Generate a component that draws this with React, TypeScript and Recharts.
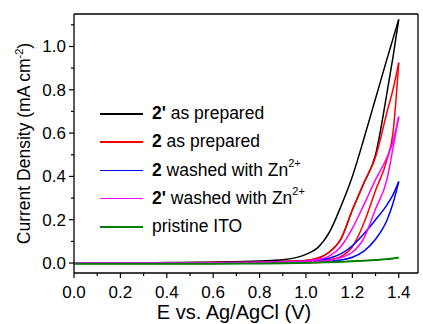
import React from 'react'
import { LineChart, Line, XAxis, YAxis, ReferenceLine, Legend } from 'recharts'

document.body.style.margin = '0'

// potential grid (V) used for both scan directions
const voltages = [0, 0.2, 0.4, 0.6, 0.8, 0.9, 1.0, 1.05, 1.1, 1.15, 1.2, 1.25, 1.3, 1.35, 1.375, 1.4]

// current density (mA cm-2), outer branch (higher current) and inner branch
const blackOuter = [0, 0.001, 0.002, 0.004, 0.009, 0.015, 0.04, 0.07, 0.14, 0.26, 0.4, 0.575, 0.76, 0.945, 1.035, 1.125]
const blackInner = [0, 0, 0.001, 0.002, 0.004, 0.007, 0.012, 0.022, 0.05, 0.11, 0.245, 0.37, 0.5, 0.79, 0.95, 1.125]
const redOuter = [0, 0, 0.001, 0.002, 0.004, 0.007, 0.012, 0.022, 0.05, 0.11, 0.245, 0.37, 0.49, 0.7, 0.8, 0.925]
const redInner = [0, 0, 0, 0.001, 0.002, 0.003, 0.005, 0.009, 0.016, 0.03, 0.075, 0.185, 0.335, 0.48, 0.6, 0.925]
const blueOuter = [0, 0, 0, 0.001, 0.002, 0.004, 0.008, 0.013, 0.022, 0.042, 0.08, 0.135, 0.2, 0.27, 0.315, 0.376]
const blueInner = [0, 0, 0, 0, 0.001, 0.002, 0.003, 0.005, 0.008, 0.014, 0.027, 0.055, 0.11, 0.2, 0.275, 0.376]
const magentaOuter = [0, 0, 0, 0.001, 0.003, 0.005, 0.01, 0.016, 0.032, 0.075, 0.16, 0.27, 0.385, 0.49, 0.56, 0.676]
const magentaInner = [0, 0, 0, 0.001, 0.002, 0.003, 0.005, 0.008, 0.013, 0.025, 0.05, 0.115, 0.25, 0.39, 0.53, 0.676]
const greenOuter = [-0.002, -0.002, -0.002, -0.002, -0.001, 0, 0.002, 0.003, 0.005, 0.007, 0.009, 0.012, 0.015, 0.019, 0.022, 0.026]
const greenInner = [-0.004, -0.004, -0.004, -0.004, -0.003, -0.002, 0, 0.001, 0.003, 0.005, 0.007, 0.01, 0.013, 0.017, 0.02, 0.026]

const xTicks = [0, 0.1, 0.2, 0.3, 0.4, 0.5, 0.6, 0.7, 0.8, 0.9, 1.0, 1.1, 1.2, 1.3, 1.4]
const yTicks = [0, 0.1, 0.2, 0.3, 0.4, 0.5, 0.6, 0.7, 0.8, 0.9, 1.0, 1.1]

const FONT = "'Liberation Sans', Arial, sans-serif"

const toPoints = (vals: number[]) => voltages.map((v, i) => ({ v, j: vals[i] }))

const series = [
  { key: 'black', color: '#000000', outer: blackOuter, inner: blackInner },
  { key: 'red', color: '#ff0000', outer: redOuter, inner: redInner },
  { key: 'blue', color: '#0000ff', outer: blueOuter, inner: blueInner },
  { key: 'magenta', color: '#ff00ff', outer: magentaOuter, inner: magentaInner },
  { key: 'green', color: '#008000', outer: greenOuter, inner: greenInner },
]

const isMajor = (v: number) => Math.round(v * 10) % 2 === 0

const XTick = ({ x, y, payload }: any) => {
  const major = isMajor(payload.value)
  return (
    <g>
      <line x1={x} x2={x} y1={y} y2={y + (major ? 5 : 3)} stroke="#000" strokeWidth={1.2} />
      {major && (
        <text x={x} y={y + 25} textAnchor="middle" style={{ fontSize: 17, fontFamily: FONT }} fill="#000">
          {payload.value.toFixed(1)}
        </text>
      )}
    </g>
  )
}

const YTick = ({ x, y, payload }: any) => {
  const major = isMajor(payload.value)
  return (
    <g>
      <line x1={x} x2={x - (major ? 5 : 3)} y1={y} y2={y} stroke="#000" strokeWidth={1.2} />
      {major && (
        <text x={x - 8} y={y + 6} textAnchor="end" style={{ fontSize: 17, fontFamily: FONT }} fill="#000">
          {payload.value.toFixed(1)}
        </text>
      )}
    </g>
  )
}

const YTitle = ({ viewBox }: any) => {
  const cx = 30
  const cy = viewBox.y + viewBox.height / 2
  return (
    <text
      x={cx}
      y={cy}
      transform={`rotate(-90, ${cx}, ${cy})`}
      textAnchor="middle"
      style={{ fontSize: 17.5, fontFamily: FONT }}
      fill="#000"
    >
      Current Density (mA cm
      <tspan dy={-7} style={{ fontSize: 11 }}>-2</tspan>
      <tspan dy={7}>)</tspan>
    </text>
  )
}

const XTitle = ({ viewBox }: any) => (
  <text
    x={viewBox.x + viewBox.width / 2 - 12}
    y={319}
    textAnchor="middle"
    style={{ fontSize: 20, fontFamily: FONT }}
    fill="#000"
  >
    E vs. Ag/AgCl (V)
  </text>
)

const legendRows = [
  { color: '#000000', bold: "2'", text: ' as prepared', sup: '' },
  { color: '#ff0000', bold: '2', text: ' as prepared', sup: '' },
  { color: '#0000ff', bold: '2', text: ' washed with Zn', sup: '2+' },
  { color: '#ff00ff', bold: "2'", text: ' washed with Zn', sup: '2+' },
  { color: '#008000', bold: '', text: 'pristine ITO', sup: '' },
]

const LegendBox = () => (
  <div style={{ position: 'relative', fontFamily: FONT, fontSize: 17.5, color: '#000' }}>
    {legendRows.map((r, i) => (
      <div key={i} style={{ position: 'absolute', top: i * 28.3, left: 0, height: 28, width: 320 }}>
        <div style={{ position: 'absolute', left: 0, top: 15, width: 43, height: 1.6, background: r.color }} />
        <div style={{ position: 'absolute', left: 52, top: 1, lineHeight: '28px', whiteSpace: 'nowrap' }}>
          {r.bold && <b>{r.bold}</b>}
          {r.text}
          {r.sup && <sup style={{ fontSize: 11, verticalAlign: 'baseline', position: 'relative', top: -9 }}>{r.sup}</sup>}
        </div>
      </div>
    ))}
  </div>
)

export default function App() {
  return (
    <LineChart width={423} height={324} margin={{ top: 14, right: 5, bottom: 0, left: 0 }} style={{ fontFamily: FONT }}>
      <XAxis
        dataKey="v"
        type="number"
        domain={[0, 1.483]}
        ticks={xTicks}
        interval={0}
        allowDataOverflow
        height={51}
        tickSize={0}
        tickMargin={0}
        tick={<XTick />}
        axisLine={{ stroke: '#000', strokeWidth: 1.3 }}
        label={<XTitle />}
      />
      <YAxis
        type="number"
        domain={[-0.046, 1.15]}
        ticks={yTicks}
        interval={0}
        allowDataOverflow
        width={74}
        tickSize={0}
        tickMargin={0}
        tick={<YTick />}
        axisLine={{ stroke: '#000', strokeWidth: 1.3 }}
        label={<YTitle />}
      />
      <ReferenceLine y={1.15} stroke="#000" strokeWidth={1.3} />
      <ReferenceLine x={1.483} stroke="#000" strokeWidth={1.3} />
      {series.map((s) => [
        <Line
          key={s.key + '-outer'}
          data={toPoints(s.outer)}
          dataKey="j"
          type="monotone"
          stroke={s.color}
          strokeWidth={1.5}
          dot={false}
          isAnimationActive={false}
          legendType="none"
        />,
        <Line
          key={s.key + '-inner'}
          data={toPoints(s.inner)}
          dataKey="j"
          type="monotone"
          stroke={s.color}
          strokeWidth={1.5}
          dot={false}
          isAnimationActive={false}
          legendType="none"
        />,
      ])}
      <Legend
        layout="vertical"
        align="center"
        verticalAlign="middle"
        content={() => <LegendBox />}
        wrapperStyle={{ left: 100, top: 98, width: 320, height: 150 }}
      />
    </LineChart>
  )
}
